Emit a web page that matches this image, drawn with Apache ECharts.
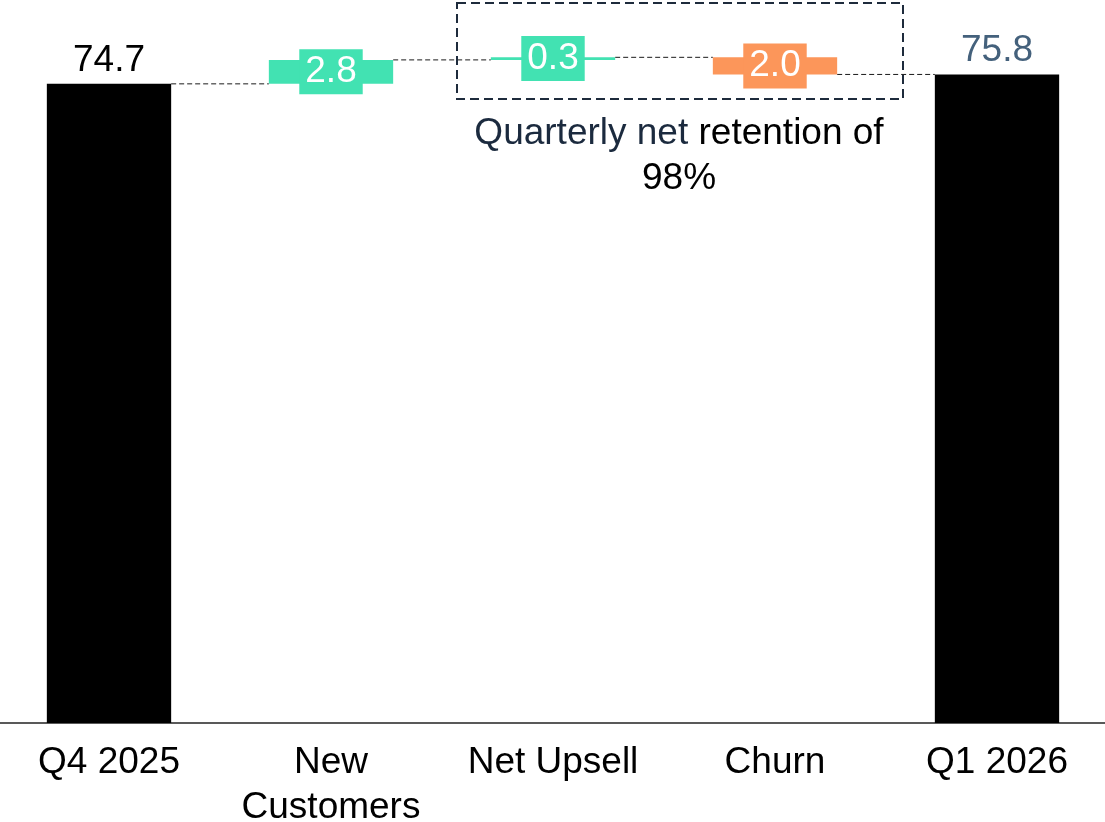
<!DOCTYPE html>
<html>
<head>
<meta charset="utf-8">
<script src="https://cdn.jsdelivr.net/npm/echarts@6/dist/echarts.min.js"></script>
<style>
  html, body { margin: 0; padding: 0; background: #fff; overflow: hidden; }
  #chart { width: 1105px; height: 822px; }
</style>
</head>
<body>
<div id="chart"></div>
<script>
// ARR bridge: quarter-to-quarter movement
const categories = ['Q4 2025', 'New\nCustomers', 'Net Upsell', 'Churn', 'Q1 2026'];
const values = [74.7, 2.8, 0.3, -2.0, 75.8];
const isTotal = [true, false, false, false, true];
const yMax = 84.5;

const FONT = "'Liberation Sans', Arial, sans-serif";
const FS = 37;
const GREEN = '#42E2B2';
const ORANGE = '#FC965A';
const TOTAL_LABEL_COLORS = ['#000000', null, null, null, '#44617C'];

// running levels, invisible bases and visible heights
const bases = [];
const heights = [];
const levels = [];
let running = 0;
values.forEach((v, i) => {
  if (isTotal[i]) {
    bases.push(0);
    heights.push(v);
    running = v;
  } else {
    const next = running + v;
    bases.push(Math.min(running, next));
    heights.push(Math.abs(v));
    running = next;
  }
  levels.push(+running.toFixed(2));
});

const BAR_FRACTION = 0.56;

const visibleData = heights.map((h, i) => {
  const color = isTotal[i] ? '#000000' : (values[i] >= 0 ? GREEN : ORANGE);
  const label = isTotal[i]
    ? { show: true, position: 'top', color: TOTAL_LABEL_COLORS[i], fontSize: FS, fontFamily: FONT,
        formatter: () => values[i].toFixed(1) }
    : { show: true, position: 'inside', color: '#ffffff', fontSize: FS, fontFamily: FONT,
        backgroundColor: color, padding: [2, 6], lineHeight: 41,
        formatter: () => Math.abs(values[i]).toFixed(1) };
  return { value: h, itemStyle: { color }, label };
});

// connectors run from the right edge of one bar to the left edge of the next
const connectorData = levels.slice(0, -1).map((lvl, i) => [i, lvl]);

const chart = echarts.init(document.getElementById('chart'));
chart.setOption({
  animation: false,
  grid: { left: -2, right: -3, top: 0, bottom: 99, containLabel: false, outerBoundsMode: 'none' },
  xAxis: {
    type: 'category',
    data: categories,
    axisTick: { show: false },
    axisLine: { lineStyle: { color: '#222', width: 1.5 } },
    axisLabel: { color: '#000', fontSize: FS, fontFamily: FONT, lineHeight: 45, margin: 17, interval: 0 }
  },
  yAxis: { type: 'value', min: 0, max: yMax, show: false, splitLine: { show: false } },
  series: [
    {
      type: 'bar', stack: 'bridge', data: bases, barWidth: (BAR_FRACTION * 100) + '%',
      itemStyle: { color: 'transparent' }, silent: true
    },
    {
      type: 'bar', stack: 'bridge', data: visibleData, barWidth: (BAR_FRACTION * 100) + '%'
    },
    {
      type: 'custom',
      data: connectorData,
      z: 1,
      silent: true,
      renderItem: (params, api) => {
        const p = api.coord([api.value(0), api.value(1)]);
        const band = api.size([1, 0])[0];
        const half = band * BAR_FRACTION / 2;
        return {
          type: 'line',
          shape: { x1: p[0] + half, y1: p[1], x2: p[0] + band - half, y2: p[1] },
          style: { stroke: '#1a1a1a', lineWidth: 1, lineDash: [5, 3] }
        };
      }
    }
  ],
  graphic: [
    {
      type: 'rect',
      shape: { x: 457, y: 3, width: 446, height: 96 },
      style: { fill: 'none', stroke: '#1E2B3C', lineWidth: 2, lineDash: [9, 5] },
      z: 10
    },
    {
      type: 'text',
      x: 679, y: 111,
      style: {
        text: '{a|Quarterly net} retention of\n98%',
        fill: '#000000',
        fontSize: FS,
        fontFamily: FONT,
        lineHeight: 45,
        align: 'center',
        verticalAlign: 'top',
        rich: { a: { fill: '#1B2A3E', fontSize: FS, fontFamily: FONT, lineHeight: 45 } }
      },
      z: 10
    }
  ]
});
</script>
</body>
</html>
